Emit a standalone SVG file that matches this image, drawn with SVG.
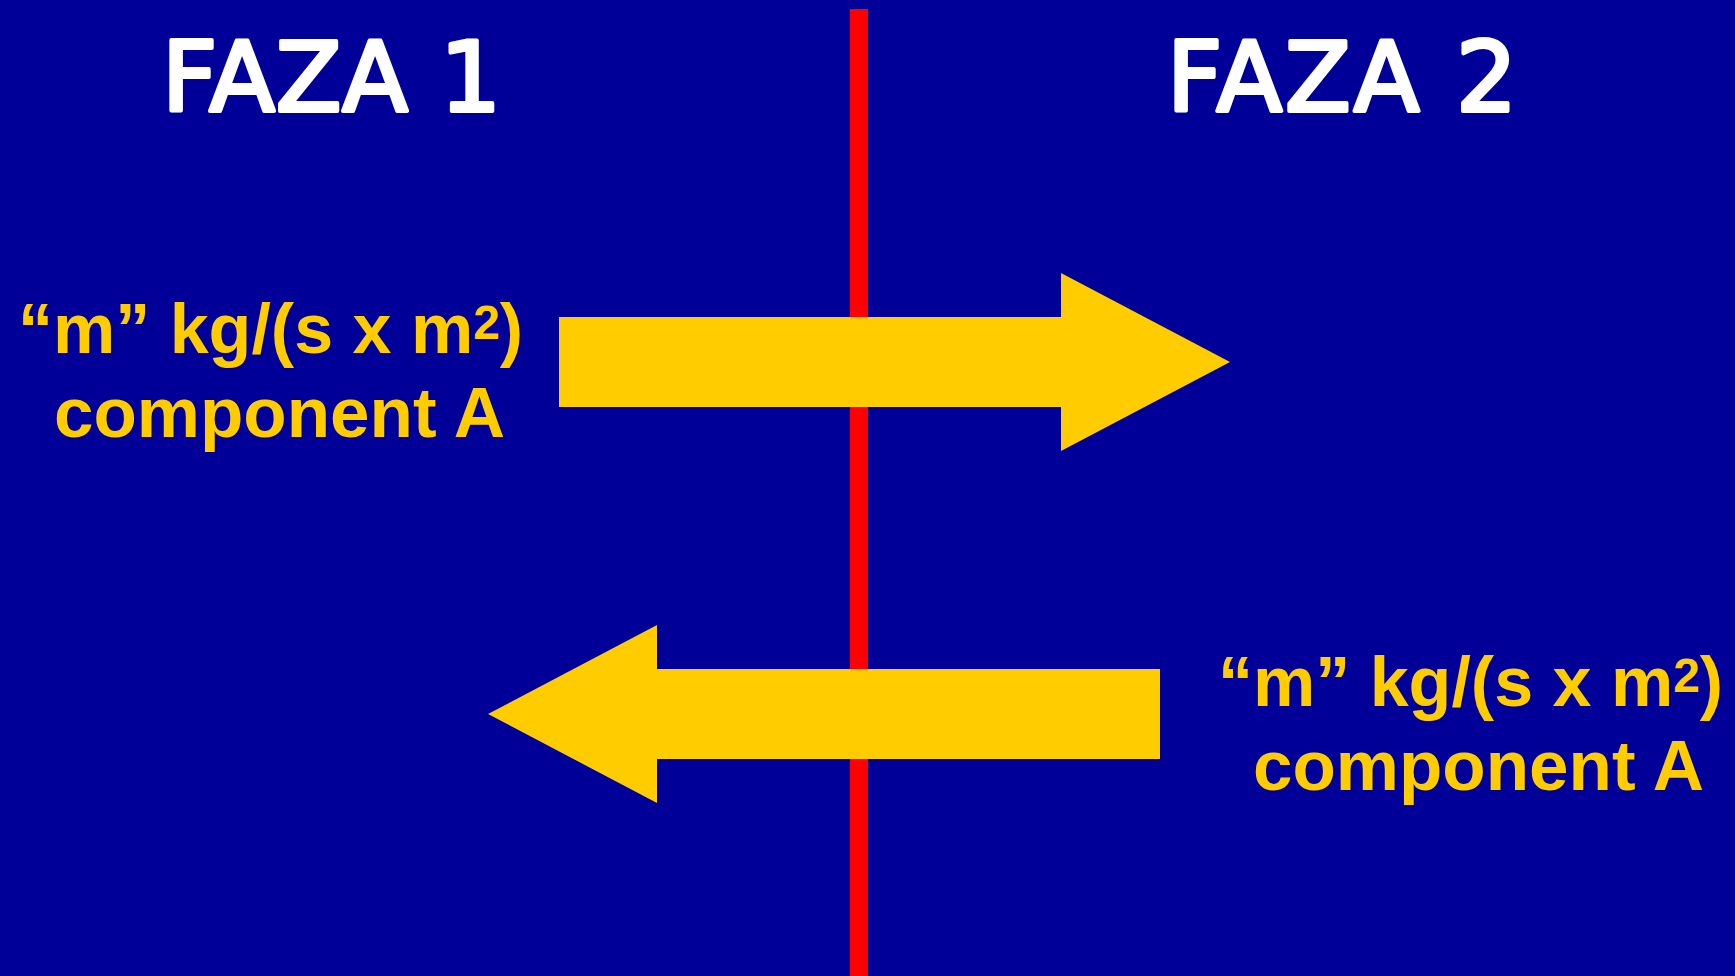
<svg xmlns="http://www.w3.org/2000/svg" width="1735" height="976" viewBox="0 0 1735 976">
  <style>
    .title { font-family: "DejaVu Sans", "Liberation Sans", sans-serif; font-size: 96px; fill: #ffffff; stroke: #ffffff; stroke-width: 4; stroke-linejoin: round; }
    .label { font-family: "Liberation Sans", Arial, sans-serif; font-weight: bold; font-size: 70px; fill: #ffcc00; }
    .line2 { font-size: 71px; }
    .sup { font-size: 48px; }
    .flux { fill: #ffcc00; }
  </style>

  <!-- background -->
  <rect x="0" y="0" width="1735" height="976" fill="#000099"/>

  <!-- phase boundary -->
  <g id="interface">
    <rect x="850" y="9" width="18" height="967" fill="#ff0000"/>
  </g>

  <!-- phase headings -->
  <g id="phase1">
    <text class="title" x="162" y="111" textLength="339" lengthAdjust="spacing">FAZA 1</text>
  </g>
  <g id="phase2">
    <text class="title" x="1167" y="111" textLength="350" lengthAdjust="spacing">FAZA 2</text>
  </g>

  <!-- flux arrows -->
  <g id="connectors">
    <polygon id="flux-1-to-2" class="flux" points="559,317 1061,317 1061,273 1230,362 1061,451 1061,407 559,407"/>
    <polygon id="flux-2-to-1" class="flux" points="1160,669 657,669 657,625 488,714 657,803 657,759 1160,759"/>
  </g>

  <!-- flux labels -->
  <g id="label-phase1">
    <text class="label" x="18" y="353">“m” kg/(s x m<tspan class="sup" dy="-14">2</tspan><tspan dy="14">)</tspan></text>
    <text class="label line2" x="54" y="437">component A</text>
  </g>
  <g id="label-phase2">
    <text class="label" x="1218" y="706">“m” kg/(s x m<tspan class="sup" dy="-14">2</tspan><tspan dy="14">)</tspan></text>
    <text class="label line2" x="1253" y="790">component A</text>
  </g>
</svg>
